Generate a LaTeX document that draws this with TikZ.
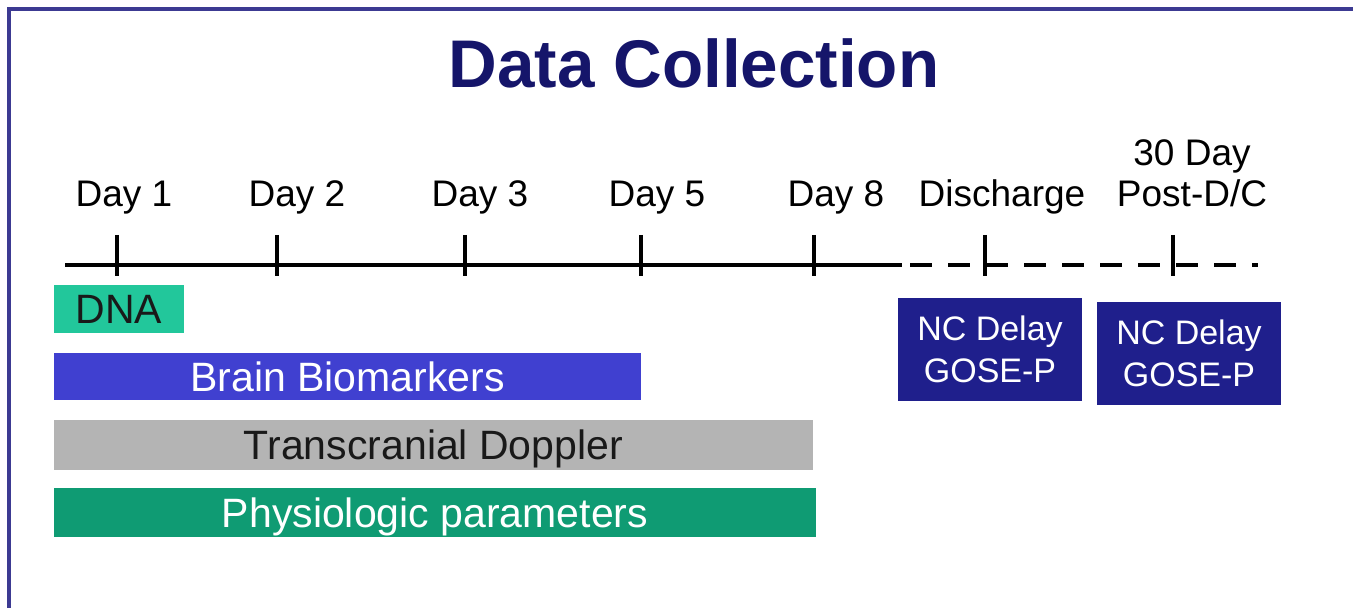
\documentclass[tikz,border=0pt]{standalone}
\usepackage{fontspec}
\setmainfont{Liberation Sans}
\usepackage{xcolor}
\usetikzlibrary{positioning}
\definecolor{framecol}{HTML}{3C3A92}
\definecolor{titlecol}{HTML}{15156A}
\definecolor{dnacol}{HTML}{22C79B}
\definecolor{braincol}{HTML}{4040D0}
\definecolor{tcdcol}{HTML}{B4B4B4}
\definecolor{physcol}{HTML}{0F9B73}
\definecolor{nccol}{HTML}{1F1F8C}
\tikzset{
	daylbl/.style={anchor=base, inner sep=0pt, font=\fontsize{18.5pt}{20.5pt}\selectfont},
	tickmark/.style={line width=2pt},
	bar/.style={inner sep=0pt, text height=14.7pt, text depth=0pt, font=\fontsize{20.5pt}{24pt}\selectfont},
	ncbox/.style={inner sep=0pt, fill=nccol, text=white, align=center, minimum width=92pt, minimum height=51.5pt, font=\fontsize{17pt}{21pt}\selectfont}
}
\begin{document}
\begin{tikzpicture}[x=0.5pt, y=-0.5pt]
		\useasboundingbox (0,0) rectangle (1353,608);
		\draw[framecol, line width=1.6pt] (1353,9) -- (9,9) -- (9,608);
		\node[anchor=base, inner sep=0pt, text=titlecol, font=\bfseries\fontsize{33.7pt}{40pt}\selectfont] (title) at (694,88) {Data Collection};
		% timeline
		\coordinate (tlstart) at (65,265);
		\coordinate (tlmid) at (902,265);
		\coordinate (dashstart) at (910,265);
		\coordinate (tlend) at (1258,265);
		\draw[line width=2pt] (tlstart) -- (tlmid);
		\draw[line width=2pt, dash pattern=on 11pt off 8pt] (dashstart) -- (tlend);
		\foreach \x/\n in {117/t1, 277/t2, 465/t3, 641/t5, 814/t8, 985/tdis, 1173/tpost}
			\draw[tickmark] (\x,235) coordinate (\n) -- (\x,276);
		% day labels
		\node[daylbl] (d1) at (124,207) {Day 1};
		\node[daylbl] (d2) at (297,207) {Day 2};
		\node[daylbl] (d3) at (480,207) {Day 3};
		\node[daylbl] (d5) at (657,207) {Day 5};
		\node[daylbl] (d8) at (836,207) {Day 8};
		\node[daylbl] (dis) at (1002,207) {Discharge};
		\node[daylbl, align=center] (post) at (1192,207) {30 Day\\Post-D/C};
		% collection bars
		\node[bar, fill=dnacol, text=black!90, minimum width=65pt, minimum height=24pt] (dna) at (119,309) {DNA};
		\node[bar, fill=braincol, text=white, minimum width=293.5pt, minimum height=23.5pt] (brain) at (347.5,376.5) {Brain Biomarkers};
		\node[bar, fill=tcdcol, text=black!90, minimum width=379.5pt, minimum height=25pt] (tcd) at (433.5,445) {Transcranial Doppler};
		\node[bar, fill=physcol, text=white, minimum width=381pt, minimum height=24.5pt] (phys) at (435,512.5) {Physiologic parameters};
		\node[ncbox] (nc1) at (990,349.5) {NC Delay\\GOSE-P};
		\node[ncbox] (nc2) at (1189,353.5) {NC Delay\\GOSE-P};
	\end{tikzpicture}
\end{document}
